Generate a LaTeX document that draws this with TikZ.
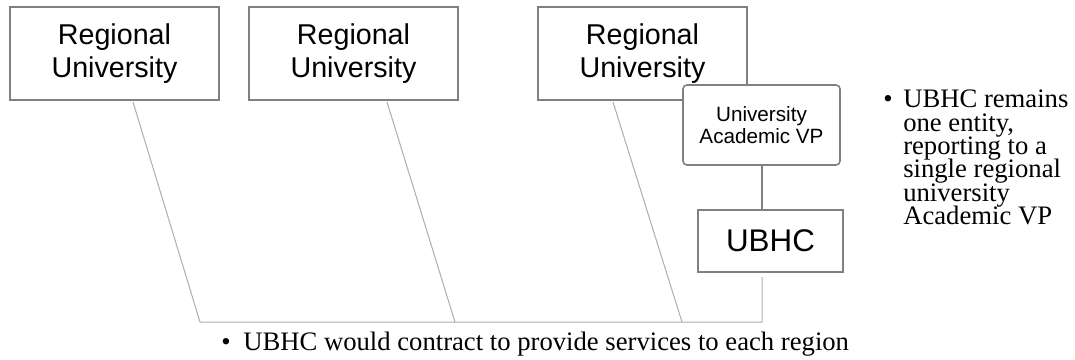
\documentclass[tikz,border=0pt]{standalone}
\usepackage{fontspec}
\setmainfont{Liberation Serif}
\newfontfamily\arial{Liberation Sans}
\usetikzlibrary{calc}
\definecolor{boxgray}{HTML}{808080}
\definecolor{linkgray}{HTML}{ADADAD}
\newcommand{\notefont}{\fontsize{20}{17.5}\selectfont\lineskiplimit-20pt\relax}

\begin{document}
\begin{tikzpicture}[x=0.75pt,y=-0.75pt,
    unibox/.style={draw=boxgray,line width=1.5pt,fill=white,
      minimum width=156.75pt,minimum height=69.75pt,align=center,
      font=\arial\fontsize{21.5}{24.5}\selectfont},
    vpbox/.style={draw=boxgray,line width=1.2pt,fill=white,rounded corners=3pt,
      minimum width=117.75pt,minimum height=60pt,align=center,
      font=\arial\fontsize{15.5}{16}\selectfont},
    hcbox/.style={draw=boxgray,line width=1.5pt,fill=white,
      minimum width=108.75pt,minimum height=46.5pt,
      font=\arial\fontsize{23.5}{28}\selectfont},
    link/.style={draw=linkgray,line width=0.75pt},
    note/.style={inner sep=0pt,align=left,font=\notefont}]
  \useasboundingbox (0,0) rectangle (1075,360);

  \node[unibox] (r1) at (114.5,53.5) {Regional\\University};
  \node[unibox] (r2) at (353.5,53.5) {Regional\\University};
  \node[unibox] (r3) at (642.5,53.5) {Regional\\University};
  \node[vpbox] (vp) at (761.5,125) {University\\Academic VP};
  \node[hcbox] (ubhc) at (770.5,241) {UBHC};

  \coordinate (b1) at (200,322);
  \coordinate (b2) at (455,322);
  \coordinate (b3) at (682,322);
  \coordinate (b4) at (762,322);

  \draw[boxgray,line width=1.5pt] (vp.south) -- (vp.south |- ubhc.north);

  % links to each region
  \draw[link] ($(r1.south)+(18.5,1)$) -- (b1) -- (b2) -- (b3) -- (b4)
    -- ($(b4 |- ubhc.south)+(0,4)$);
  \draw[link] ($(r2.south)+(33.5,1)$) -- (b2);
  \draw[link] ($(r3.south)+(-29.5,1)$) -- (b3);

  \node[note,anchor=base west] (bul1) at (221,350) {\textbullet};
  \node[note,anchor=base west] (txt1) at (243,350)
    {UBHC would contract to provide services to each region};

  \node[note,anchor=base west] (bul2) at (883,108) {\textbullet};
  \node[note,anchor=base west] (txt2) at (903,224.5)
    {UBHC remains\\one entity,\\reporting to a\\single regional\\university\\Academic VP};
\end{tikzpicture}
\end{document}
